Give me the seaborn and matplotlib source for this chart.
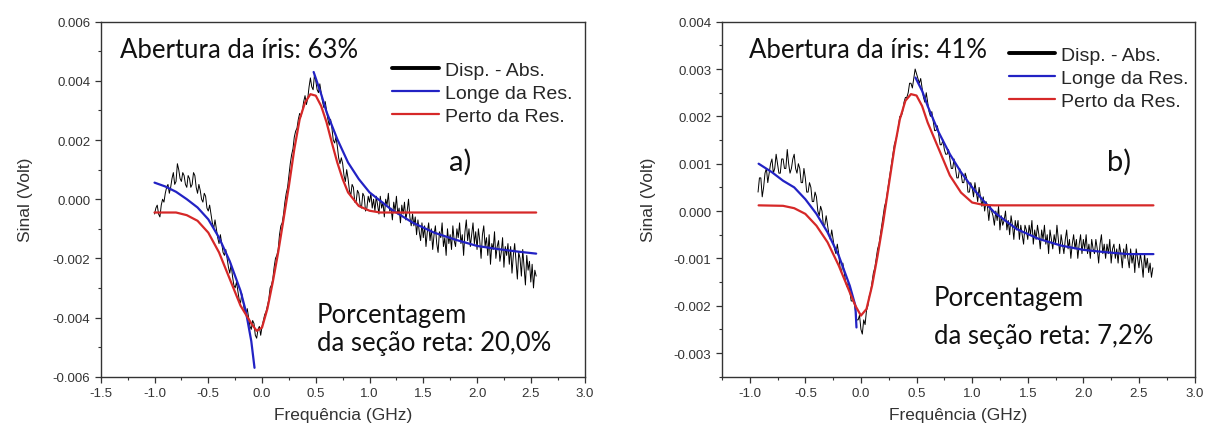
import numpy as np
import pandas as pd
import matplotlib
matplotlib.use("Agg")
import matplotlib.pyplot as plt
import seaborn as sns
from matplotlib.lines import Line2D
from matplotlib.ticker import MultipleLocator, FormatStrFormatter

# ---------------- data (signal in mV, frequency in GHz) ----------------
# panel a) measured trace, evenly spaced (12.5 MHz) from -1.0 to 2.55 GHz
a_data_x_range = (-1.0, 2.55)
a_data_mv = [
    # -1.0 .. 0.9875 GHz
    -0.5, -0.3, -0.2, -0.5, -0.6, -0.2, 0.0, -0.1, 0.2, 0.4, 0.5, 0.2, 0.4, 0.7, 0.9, 0.5, 0.6, 1.2,
    1.0, 0.7, 0.6, 0.9, 0.8, 0.5, 0.4, 0.8, 0.7, 0.4, 0.5, 0.9, 0.8, 0.4, 0.2, 0.5, 0.3, 0.0, -0.1,
    0.2, 0.1, -0.3, -0.4, -0.2, -0.5, -0.8, -1.0, -0.7, -1.0, -1.3, -1.5, -1.2, -1.5, -1.8, -1.9,
    -1.7, -2.0, -2.3, -2.5, -2.2, -2.6, -2.9, -3.0, -2.8, -3.1, -3.4, -3.5, -3.2, -3.5, -3.8, -3.9,
    -3.7, -4.0, -4.3, -4.4, -4.1, -4.2, -4.6, -4.7, -4.4, -4.3, -4.6, -4.3, -4.1, -3.9, -3.8, -3.6,
    -3.4, -3.0, -2.9, -2.7, -2.3, -2.0, -1.9, -1.7, -1.2, -0.9, -0.8, -0.5, -0.1, 0.2, 0.4, 0.8, 1.2,
    1.5, 1.7, 2.1, 2.3, 2.4, 2.7, 2.9, 2.8, 3.0, 3.3, 3.5, 3.2, 3.4, 3.8, 4.1, 3.8, 3.7, 4.2, 4.0,
    3.7, 3.6, 3.9, 3.6, 3.3, 3.1, 3.3, 3.0, 2.7, 2.5, 2.7, 2.4, 2.0, 1.9, 2.1, 1.8, 1.4, 1.2, 1.4,
    1.2, 0.8, 0.6, 1.0, 0.7, 0.3, 0.1, 0.5, 0.4, -0.1, -0.1, 0.3, 0.2, -0.2, -0.3, 0.2, 0.1, -0.4,
    -0.3, 0.1,
    # 1.0 .. 2.55 GHz
    -0.1, 0.2, -0.3, 0.0, -0.4, 0.1, -0.2, -0.5,
    0.1, -0.3, -0.1, -0.6, 0.0, -0.2, 0.2, -0.4,
    -0.3, -0.7, -0.1, -0.4, 0.1, -0.5, -0.3, -0.8,
    -0.2, -0.5, -0.1, -0.7, -0.4, 0.0, -0.6, -0.9,
    -0.5, -0.9, -0.6, -1.2, -0.7, -1.1, -1.4, -0.8,
    -1.3, -0.9, -1.6, -1.1, -0.8, -1.4, -1.0, -1.7,
    -1.2, -0.9, -1.5, -1.8, -1.1, -1.3, -0.8, -1.6,
    -1.3, -1.9, -1.0, -1.5, -1.2, -1.7, -0.9, -1.4,
    -1.6, -1.0, -1.3, -0.8, -1.5, -1.2, -1.9, -1.1,
    -0.7, -1.4, -1.0, -1.6, -1.2, -0.8, -1.5, -1.1,
    -1.7, -1.0, -1.4, -2.0, -1.2, -0.9, -1.6, -1.3,
    -1.9, -1.2, -2.2, -1.5, -1.7, -1.1, -2.0, -1.6,
    -1.4, -2.1, -1.8, -1.3, -2.3, -1.6, -1.9, -1.5,
    -2.2, -1.6, -2.5, -1.9, -1.5, -2.1, -2.7, -1.8,
    -2.0, -2.6, -1.7, -2.3, -2.9, -1.9, -2.4, -2.1,
    -2.8, -2.2, -3.0, -2.4, -2.6]
# panel a) "Longe da Res." fit: two branches away from resonance
a_far1_x = [-1.0, -0.9, -0.8, -0.7, -0.6, -0.5, -0.4, -0.3, -0.2, -0.15, -0.1, -0.07]
a_far1_mv = [0.56, 0.43, 0.25, 0.0, -0.28, -0.68, -1.3, -2.1, -3.1, -3.8, -4.8, -5.7]
a_far2_x = [0.48, 0.55, 0.6, 0.7, 0.8, 0.9, 1.0, 1.2, 1.4, 1.6, 1.8, 2.0, 2.2, 2.4, 2.55]
a_far2_mv = [4.3, 3.55, 2.95, 2.03, 1.24, 0.68, 0.23, -0.34, -0.79, -1.13, -1.37, -1.58, -1.69, -1.78, -1.84]
# panel a) "Perto da Res." fit
a_near_x = [-1.0, -0.8, -0.7, -0.6, -0.5, -0.4, -0.3, -0.2, -0.1, -0.05, 0.0, 0.05, 0.1, 0.15, 0.2,
            0.25, 0.3, 0.35, 0.4, 0.45, 0.5, 0.55, 0.6, 0.65, 0.7, 0.75, 0.8, 0.9, 1.0, 1.1, 2.55]
a_near_mv = [-0.45, -0.45, -0.54, -0.73, -1.13, -1.8, -2.7, -3.6, -4.2, -4.45, -4.34, -3.7, -2.8,
             -1.8, -0.68, 0.45, 1.69, 2.7, 3.27, 3.55, 3.5, 3.15, 2.6, 1.9, 1.24, 0.68, 0.23, -0.23,
             -0.39, -0.45, -0.45]

# panel b) measured trace, evenly spaced (12.5 MHz) from -0.925 to 2.625 GHz
b_data_x_range = (-0.925, 2.625)
b_data_mv = [
    # -0.925 .. 0.9875 GHz
    0.4, 0.7, 0.7, 0.3, 0.5, 0.8, 0.9, 0.6, 0.8, 1.0, 1.1, 0.8, 0.9, 1.2, 1.0, 0.8, 0.8, 1.1, 1.1, 0.9,
    0.9, 1.3, 1.0, 0.8, 0.9, 1.1, 1.2, 0.9, 0.8, 1.0, 0.9, 0.6, 0.6, 0.9, 0.7, 0.4, 0.4, 0.6, 0.5, 0.2,
    0.2, 0.4, 0.3, 0.0, -0.1, 0.1, 0.0, -0.3, -0.3, -0.1, -0.3, -0.5, -0.6, -0.4, -0.6, -0.8, -0.9,
    -0.7, -0.9, -1.2, -1.3, -1.1, -1.3, -1.5, -1.6, -1.5, -1.7, -1.9, -1.9, -1.9, -2.1, -2.3, -2.3,
    -2.2, -2.5, -2.6, -2.3, -2.4, -2.1, -2.0, -1.8, -1.7, -1.5, -1.3, -1.2, -1.0, -0.8, -0.7, -0.5,
    -0.3, -0.1, 0.1, 0.2, 0.4, 0.6, 0.8, 1.0, 1.2, 1.4, 1.5, 1.6, 1.8, 2.0, 2.0, 2.1, 2.3, 2.4, 2.4,
    2.5, 2.7, 2.7, 2.6, 2.8, 3.0, 2.9, 2.8, 2.7, 2.8, 2.6, 2.4, 2.3, 2.5, 2.3, 2.1, 2.0, 2.1, 1.9,
    1.7, 1.7, 1.8, 1.6, 1.4, 1.4, 1.5, 1.3, 1.2, 1.2, 1.3, 1.1, 0.9, 0.9, 1.1, 0.9, 0.7, 0.7, 0.9,
    0.8, 0.6, 0.6, 0.8, 0.7, 0.4, 0.4, 0.6,
    # 1.0 .. 2.625 GHz
    0.5, 0.3, 0.6, 0.4, 0.2, 0.5, 0.3, 0.1,
    0.3, 0.0, 0.2, 0.1, -0.2, 0.1, 0.0, -0.1,
    -0.3, 0.0, -0.2, 0.1, -0.4, -0.1, -0.3, -0.2,
    0.0, -0.4, -0.2, -0.5, -0.1, -0.3, -0.6, -0.2,
    -0.4, -0.2, -0.6, -0.3, -0.5, -0.7, -0.3, -0.4,
    -0.6, -0.3, -0.5, -0.2, -0.7, -0.4, -0.6, -0.3,
    -0.5, -0.8, -0.4, -0.6, -0.3, -0.7, -0.5, -0.9,
    -0.4, -0.6, -0.8, -0.5, -0.7, -0.3, -0.6, -0.9,
    -0.5, -0.7, -0.9, -0.6, -0.4, -0.8, -0.6, -1.0,
    -0.7, -0.5, -0.8, -0.6, -1.0, -0.7, -0.5, -0.9,
    -0.6, -0.8, -0.5, -0.9, -0.7, -1.0, -0.6, -0.8,
    -0.9, -0.6, -0.8, -1.1, -0.7, -0.5, -0.9, -0.7,
    -1.0, -0.7, -0.9, -0.6, -1.1, -0.8, -0.7, -1.0,
    -0.8, -1.1, -0.7, -0.9, -1.2, -0.8, -1.0, -0.7,
    -1.0, -1.2, -0.8, -1.1, -0.9, -1.3, -0.8, -1.0,
    -1.2, -0.9, -1.1, -1.4, -0.9, -1.2, -1.0, -1.3,
    -1.1, -1.4, -1.2]
b_far1_x = [-0.92, -0.8, -0.7, -0.6, -0.5, -0.4, -0.3, -0.2, -0.1, -0.05, -0.04]
b_far1_mv = [1.0, 0.82, 0.64, 0.5, 0.25, -0.06, -0.45, -0.94, -1.58, -2.0, -2.46]
b_far2_x = [0.49, 0.55, 0.6, 0.7, 0.8, 0.9, 1.0, 1.1, 1.2, 1.4, 1.6, 1.8, 2.0, 2.2, 2.4, 2.63]
b_far2_mv = [2.82, 2.54, 2.22, 1.66, 1.2, 0.82, 0.5, 0.22, -0.03, -0.38, -0.59, -0.73, -0.82, -0.87, -0.91, -0.91]
b_near_x = [-0.92, -0.7, -0.6, -0.5, -0.4, -0.3, -0.2, -0.1, -0.05, 0.0, 0.05, 0.1, 0.15, 0.2, 0.25,
            0.3, 0.35, 0.4, 0.45, 0.5, 0.55, 0.6, 0.7, 0.8, 0.9, 1.0, 1.1, 1.2, 2.63]
b_near_mv = [0.12, 0.11, 0.06, -0.06, -0.31, -0.66, -1.15, -1.72, -2.0, -2.21, -2.07, -1.58, -0.94,
             -0.24, 0.54, 1.31, 1.94, 2.33, 2.47, 2.44, 2.22, 1.87, 1.31, 0.75, 0.39, 0.18, 0.13,
             0.12, 0.12]

legend_labels = ["Disp. - Abs.", "Longe da Res.", "Perto da Res."]
iris_texts = ["Abertura da íris: 63%", "Abertura da íris: 41%"]
panel_tags = ["a)", "b)"]
section_texts = ["da seção reta: 20,0%", "da seção reta: 7,2%"]
pct_word = "Porcentagem"
xlabel = "Frequência (GHz)"
ylabel = "Sinal (Volt)"

# ---------------- styling ----------------
sns.set_style("ticks")
plt.rcParams['font.family'] = ['Liberation Sans', 'DejaVu Sans']

C_BLACK = "#000000"
C_BLUE = "#2222c4"
C_RED = "#d62828"
C_AX = "#333333"
ANN_FONT = ['Lato', 'DejaVu Sans']

fig = plt.figure(figsize=(12.07, 4.27), dpi=100)
axL = fig.add_axes([0.0835, 0.1155, 0.4008, 0.8313])
axR = fig.add_axes([0.5981, 0.1155, 0.3916, 0.8313])


def to_df(x, mv):
    return pd.DataFrame({"f": np.asarray(x, float), "s": np.asarray(mv, float) * 1e-3})


def draw(ax, data_rng, data_mv, far1, far2, near, xlim, ylim, ymaj, ymin, ylpad):
    dx = np.linspace(data_rng[0], data_rng[1], len(data_mv))
    sns.lineplot(data=to_df(dx, data_mv), x="f", y="s", ax=ax, color=C_BLACK, lw=0.7,
                 estimator=None, sort=False)
    for (fx, fy) in (far1, far2):
        sns.lineplot(data=to_df(fx, fy), x="f", y="s", ax=ax, color=C_BLUE, lw=1.6,
                     estimator=None, sort=False)
    sns.lineplot(data=to_df(*near), x="f", y="s", ax=ax, color=C_RED, lw=1.6,
                 estimator=None, sort=False)
    ax.set_xlim(*xlim)
    ax.set_ylim(*ylim)
    ax.xaxis.set_major_locator(MultipleLocator(0.5))
    ax.xaxis.set_minor_locator(MultipleLocator(0.25))
    ax.yaxis.set_major_locator(MultipleLocator(ymaj))
    ax.yaxis.set_minor_locator(MultipleLocator(ymin))
    ax.xaxis.set_major_formatter(FormatStrFormatter('%.1f'))
    ax.yaxis.set_major_formatter(FormatStrFormatter('%.3f'))
    ax.tick_params(which='major', direction='out', length=4, width=0.9, colors=C_AX,
                   labelsize=9.5, top=False, right=False)
    ax.tick_params(which='minor', direction='out', length=2.5, width=0.8, colors=C_AX,
                   top=False, right=False)
    for sp in ax.spines.values():
        sp.set_visible(True)
        sp.set_color(C_AX)
        sp.set_linewidth(1.0)
    ax.set_xlabel(xlabel, fontsize=12.5, color=C_AX, labelpad=6)
    ax.set_ylabel(ylabel, fontsize=12.5, color=C_AX, labelpad=ylpad)


draw(axL, a_data_x_range, a_data_mv, (a_far1_x, a_far1_mv), (a_far2_x, a_far2_mv),
     (a_near_x, a_near_mv), (-1.5, 3.0), (-0.006, 0.006), 0.002, 0.001, 14)
draw(axR, b_data_x_range, b_data_mv, (b_far1_x, b_far1_mv), (b_far2_x, b_far2_mv),
     (b_near_x, b_near_mv), (-1.25, 3.0), (-0.0035, 0.004), 0.001, 0.0005, 13)

handles = [Line2D([], [], color=C_BLACK, lw=2.8),
           Line2D([], [], color=C_BLUE, lw=1.6),
           Line2D([], [], color=C_RED, lw=1.6)]

layout = {
    axL: dict(iris=(0.040, 0.923), tag=(0.72, 0.608), pct=(0.447, 0.176), sec=(0.447, 0.097),
              leg=(0.602, 0.888)),
    axR: dict(iris=(0.057, 0.923), tag=(0.815, 0.607), pct=(0.448, 0.224), sec=(0.448, 0.115),
              leg=(0.607, 0.931)),
}
for i, ax in enumerate((axL, axR)):
    L = layout[ax]
    ax.text(*L['iris'], iris_texts[i], transform=ax.transAxes, fontsize=18.5, family=ANN_FONT,
            color="#111111", va='center', ha='left')
    ax.text(*L['tag'], panel_tags[i], transform=ax.transAxes, fontsize=21, family=ANN_FONT,
            color="#111111", va='center', ha='left')
    ax.text(*L['pct'], pct_word, transform=ax.transAxes, fontsize=18.5, family=ANN_FONT,
            color="#111111", va='center', ha='left')
    ax.text(*L['sec'], section_texts[i], transform=ax.transAxes, fontsize=18.5, family=ANN_FONT,
            color="#111111", va='center', ha='left')
    ax.legend(handles, legend_labels, loc='upper left', bbox_to_anchor=L['leg'], frameon=False,
              fontsize=14, handlelength=2.4, handletextpad=0.3, labelspacing=0.28,
              borderaxespad=0, borderpad=0)

fig.savefig("out.png", dpi=100)
